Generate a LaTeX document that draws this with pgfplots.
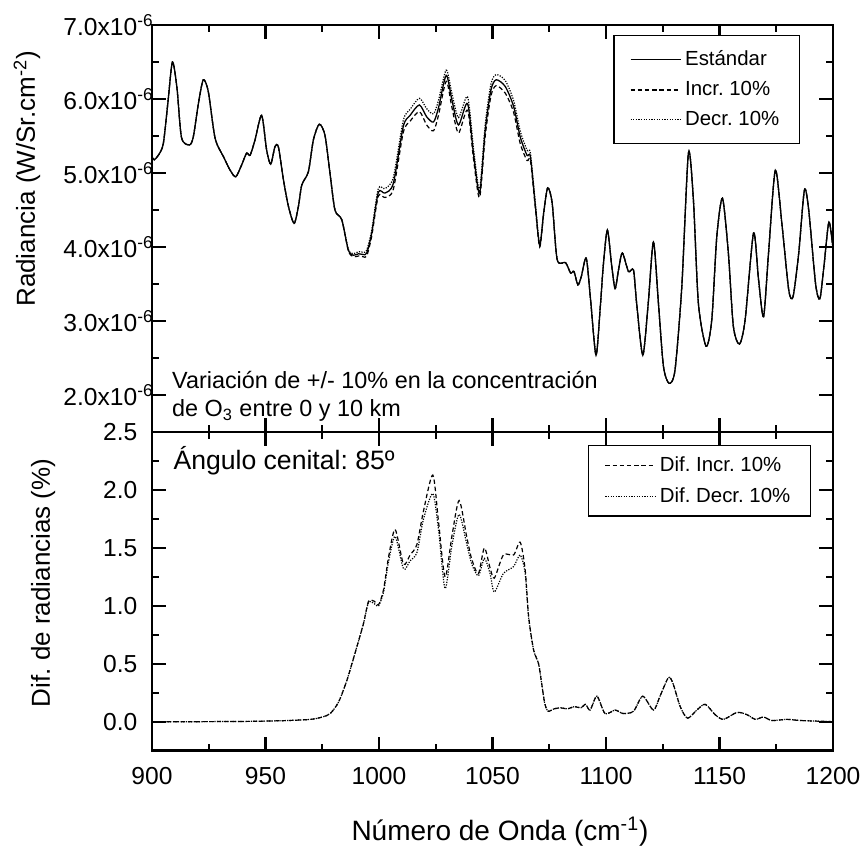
\documentclass[border=0pt]{standalone}
\usepackage{pgfplots}
\usepackage{pgfplotstable}
\pgfplotsset{compat=1.18}
\usepackage{fontspec}
\setmainfont{Liberation Sans}

\pgfplotstableread{
x std incr decr
900 5.22 5.22 5.22
901 5.18 5.18 5.18
903 5.25 5.25 5.25
905 5.40 5.40 5.40
907 5.95 5.95 5.95
909 6.50 6.50 6.50
911 6.15 6.15 6.15
913 5.48 5.48 5.48
916.5 5.38 5.38 5.38
918.2 5.49 5.49 5.49
920.5 5.95 5.95 5.95
922.6 6.26 6.26 6.26
924.8 6.10 6.10 6.10
927.8 5.47 5.47 5.47
931.5 5.22 5.22 5.22
934.4 5.04 5.04 5.04
936.9 4.95 4.95 4.95
939.5 5.11 5.11 5.11
941.7 5.27 5.27 5.27
943.2 5.24 5.24 5.24
945.4 5.45 5.45 5.45
948.3 5.78 5.78 5.78
950.5 5.31 5.31 5.31
952.3 5.12 5.12 5.12
954.2 5.36 5.36 5.36
955.7 5.35 5.35 5.35
957.9 4.91 4.91 4.91
960.1 4.55 4.55 4.55
962.6 4.32 4.32 4.32
964.5 4.55 4.55 4.55
966.0 4.84 4.84 4.84
968.9 5.02 5.02 5.02
971.1 5.45 5.45 5.45
973.7 5.66 5.66 5.66
976.2 5.51 5.51 5.51
978.4 5.00 5.00 5.00
980.6 4.50 4.50 4.50
983.6 4.37 4.37 4.37
986.5 3.96 3.95 3.97
988.7 3.89 3.87 3.91
991.0 3.91 3.88 3.94
993.0 3.90 3.87 3.93
994.6 3.92 3.88 3.96
996.8 4.19 4.15 4.23
999.7 4.74 4.69 4.79
1002.6 4.73 4.67 4.79
1006.3 4.86 4.78 4.94
1010.7 5.63 5.55 5.71
1013.7 5.78 5.70 5.86
1017.8 5.92 5.83 6.01
1021.0 5.76 5.65 5.87
1024.0 5.69 5.57 5.80
1026.2 5.88 5.78 5.98
1029.6 6.32 6.24 6.39
1032.1 5.99 5.89 6.08
1035.0 5.65 5.54 5.75
1039.0 5.94 5.85 6.03
1041.6 5.27 5.20 5.34
1044.3 4.73 4.67 4.79
1046.8 5.58 5.50 5.66
1049.3 6.12 6.04 6.20
1051.6 6.26 6.18 6.33
1055.6 6.17 6.08 6.25
1059.3 5.90 5.82 5.98
1062.2 5.49 5.40 5.57
1065.2 5.24 5.17 5.31
1066.7 5.22 5.17 5.27
1068.9 4.55 4.52 4.58
1070.8 4.02 4.00 4.04
1072.5 4.45 4.44 4.46
1074.3 4.80 4.80 4.80
1076.3 4.59 4.59 4.59
1078.5 3.83 3.83 3.83
1082.2 3.79 3.79 3.79
1084.4 3.65 3.65 3.65
1085.9 3.67 3.67 3.67
1087.6 3.49 3.49 3.49
1089.1 3.60 3.60 3.60
1091.3 3.85 3.85 3.85
1093.2 3.29 3.29 3.29
1095.6 2.54 2.54 2.54
1097.5 3.20 3.20 3.20
1098.8 3.75 3.75 3.75
1100.6 4.23 4.23 4.23
1102.5 3.75 3.75 3.75
1104.0 3.44 3.44 3.44
1105.5 3.69 3.69 3.69
1107.2 3.92 3.92 3.92
1109.9 3.67 3.67 3.67
1112.1 3.69 3.69 3.69
1113.5 3.24 3.24 3.24
1116.2 2.54 2.54 2.54
1118.6 3.24 3.24 3.24
1120.9 4.07 4.07 4.07
1123.1 3.24 3.24 3.24
1125.3 2.39 2.39 2.39
1127.8 2.16 2.16 2.16
1130.4 2.34 2.34 2.34
1133.4 3.47 3.47 3.47
1136.3 5.27 5.27 5.27
1138.5 4.64 4.64 4.64
1140.7 3.24 3.24 3.24
1144.1 2.66 2.66 2.66
1146.6 3.02 3.02 3.02
1148.8 4.14 4.14 4.14
1151.3 4.66 4.66 4.66
1153.9 3.92 3.92 3.92
1156.1 2.93 2.93 2.93
1158.8 2.69 2.69 2.69
1161.3 3.02 3.02 3.02
1165.0 4.19 4.19 4.19
1167.2 3.56 3.56 3.56
1169.4 3.06 3.06 3.06
1171.6 3.92 3.92 3.92
1174.6 5.04 5.04 5.04
1177.6 4.28 4.28 4.28
1180.5 3.42 3.42 3.42
1182.4 3.33 3.33 3.33
1184.9 3.92 3.92 3.92
1187.4 4.77 4.77 4.77
1189.3 4.50 4.50 4.50
1192.3 3.51 3.51 3.51
1194.2 3.30 3.30 3.30
1196.0 3.74 3.74 3.74
1198.2 4.34 4.34 4.34
1200.0 3.98 3.98 3.98
}\radtable

\pgfplotstableread{
x incr decr
900 0.000 0.000
920 0.000 0.000
940 0.002 0.002
950 0.005 0.005
960 0.010 0.010
970 0.020 0.020
975 0.040 0.040
978.5 0.07 0.07
982.2 0.17 0.17
985.9 0.36 0.36
990.3 0.65 0.65
993.2 0.85 0.85
995.4 1.04 1.03
997.9 1.04 1.02
999.8 1.01 1.00
1002.0 1.14 1.12
1004.2 1.42 1.38
1007.1 1.66 1.60
1010.8 1.36 1.32
1013.7 1.44 1.39
1016.7 1.53 1.46
1019.6 1.82 1.75
1023.7 2.13 1.97
1026.2 1.73 1.66
1029.1 1.25 1.15
1032.1 1.60 1.52
1035.3 1.91 1.79
1038.7 1.59 1.53
1040.9 1.40 1.36
1043.8 1.28 1.26
1046.4 1.50 1.41
1048.9 1.33 1.28
1050.8 1.24 1.12
1054.8 1.44 1.28
1059.3 1.44 1.34
1062.2 1.55 1.44
1064.4 1.31 1.28
1065.9 0.91 0.90
1068.1 0.62 0.62
1070.3 0.50 0.50
1071.5 0.35 0.35
1073.0 0.16 0.16
1074.5 0.09 0.09
1077.0 0.11 0.11
1080.0 0.12 0.12
1083.0 0.11 0.11
1086.0 0.13 0.13
1089.0 0.12 0.12
1091.0 0.15 0.15
1093.0 0.10 0.10
1096.0 0.22 0.22
1099.6 0.07 0.07
1104.0 0.10 0.10
1107.6 0.07 0.07
1112.1 0.09 0.09
1116.2 0.22 0.22
1120.9 0.10 0.10
1123.8 0.22 0.22
1127.5 0.38 0.38
1129.5 0.33 0.33
1132.7 0.13 0.13
1135.9 0.03 0.03
1140.0 0.10 0.10
1143.7 0.15 0.15
1148.1 0.06 0.06
1151.8 0.02 0.02
1157.7 0.08 0.08
1162.1 0.06 0.06
1165.8 0.02 0.02
1169.4 0.04 0.04
1173.1 0.01 0.01
1179.7 0.02 0.02
1185.6 0.01 0.01
1200.0 0.00 0.00
}\diftable

\begin{document}
\frenchspacing
\begin{tikzpicture}
\pgfplotsset{
  every axis/.append style={
    scale only axis,
    width=340.5pt,
    xmin=900, xmax=1200,
    xtick={900,950,1000,1050,1100,1150,1200},
    minor x tick num=1,
    xtick pos=both, ytick pos=both,
    tick align=inside,
    major tick length=7pt, minor tick length=3.5pt,
    every tick/.style={black, line width=1.1pt},
    axis line style={line width=1.2pt},
    tick label style={font=\fontsize{12.3}{14}\selectfont},
    yticklabel style={xshift=-3.8pt},
    xticklabel style={yshift=-4.8pt},
    clip mode=individual,
  },
  stdline/.style={black, line width=0.65pt, smooth, tension=0.45},
  incline/.style={black, line width=0.6pt, dash pattern=on 2.2pt off 1.4pt, smooth, tension=0.45},
  decline/.style={black, line width=0.6pt, dash pattern=on 0.6pt off 0.7pt, smooth, tension=0.45},
  legend image code/.code={\draw[#1] (0pt,0pt) -- (25pt,0pt);},
}

% ---------- bottom panel ----------
\begin{axis}[
  name=bot,
  at={(0,0)}, anchor=south west,
  height=159.2pt,
  ymin=-0.25, ymax=2.5,
  ytick={0,0.5,1,1.5,2,2.5},
  yticklabels={0.0,0.5,1.0,1.5,2.0,2.5},
  minor y tick num=1,
  xticklabels={900,950,1000,1050,1100,1150,1200},
  legend style={at={(axis description cs:0.9677,0.960)}, anchor=north east,
    draw=black, line width=0.7pt, font=\fontsize{10.2}{12}\selectfont,
    inner xsep=8pt, inner ysep=3.5pt, row sep=2.5pt},
  legend cell align=left,
]
\addplot[incline] table[x=x, y=incr] {\diftable};
\addlegendentry{Dif. Incr. 10\%}
\addplot[decline] table[x=x, y=decr] {\diftable};
\addlegendentry{Dif. Decr. 10\%}
\node[anchor=base west, inner sep=0pt, font=\fontsize{13.3}{15}\selectfont] at (axis description cs:0.031,0.8816) {Ángulo cenital: 85º};
\node[rotate=90, font=\fontsize{13}{15}\selectfont] at (axis description cs:-0.160,0.527) {Dif. de radiancias (\%)};
\node[anchor=base, font=\fontsize{14}{16}\selectfont] at (axis description cs:0.511,-0.2836) {Número de Onda (cm\textsuperscript{-1})};
\end{axis}

% ---------- top panel ----------
\begin{axis}[
  name=top,
  at={(0,159.2pt)}, anchor=south west,
  height=203.6pt,
  ymin=1.5, ymax=7,
  ytick={2,3,4,5,6,7},
  yticklabels={2.0x10\rlap{\textsuperscript{-6}},3.0x10\rlap{\textsuperscript{-6}},4.0x10\rlap{\textsuperscript{-6}},5.0x10\rlap{\textsuperscript{-6}},6.0x10\rlap{\textsuperscript{-6}},7.0x10\rlap{\textsuperscript{-6}}},
  minor y tick num=1,
  xticklabels={},
  legend style={at={(axis description cs:0.9515,0.9754)}, anchor=north east,
    draw=black, line width=0.7pt, font=\fontsize{10.2}{12}\selectfont,
    inner xsep=8pt, inner ysep=5.5pt, row sep=2.3pt},
  legend cell align=left,
]
\addplot[stdline] table[x=x, y=std] {\radtable};
\addlegendentry{Estándar}
\addplot[incline] table[x=x, y=incr] {\radtable};
\addlegendentry{Incr. 10\%}
\addplot[decline] table[x=x, y=decr] {\radtable};
\addlegendentry{Decr. 10\%}
\node[anchor=base west, inner sep=0pt, font=\fontsize{11.7}{13}\selectfont] at (axis description cs:0.029,0.1063) {Variación de +/- 10\% en la concentración};
\node[anchor=base west, inner sep=0pt, font=\fontsize{11.7}{13}\selectfont] at (axis description cs:0.029,0.0376) {de O\textsubscript{3} entre 0 y 10 km};
\node[rotate=90, font=\fontsize{13}{15}\selectfont] at (axis description cs:-0.1836,0.622) {Radiancia (W/Sr.cm\textsuperscript{-2})};
\end{axis}

\pgfresetboundingbox
\path[use as bounding box] ([xshift=-76pt,yshift=-47.65pt]bot.south west) rectangle ([xshift=15.5pt,yshift=12.5pt]top.north east);
\end{tikzpicture}
\end{document}
